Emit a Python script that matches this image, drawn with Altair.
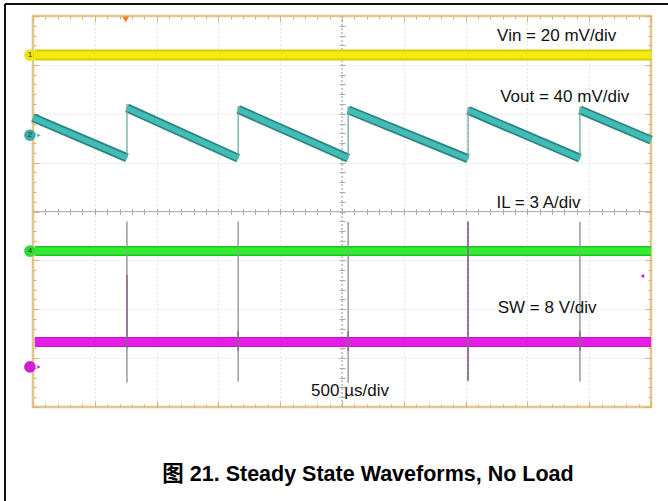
import altair as alt
import pandas as pd

# ---------------- data (x in divisions of 500 µs, y in screen divisions) ----------------
switch_t = [1.52, 3.32, 5.10, 7.04, 8.85]

# Vout sawtooth: falling segments between switching instants
vout_t0 = [0.00, 1.52, 3.32, 5.10, 7.04, 8.85]
vout_v0 = [1.92, 2.12, 2.09, 2.08, 2.07, 2.08]
vout_t1 = [1.52, 3.32, 5.10, 7.04, 8.85, 10.00]
vout_v1 = [1.10, 1.09, 1.09, 1.08, 1.09, 1.46]
# fast rising edges at each switching instant
vout_jump_lo = [1.10, 1.09, 1.09, 1.08, 1.09]
vout_jump_hi = [2.20, 2.16, 2.15, 2.14, 2.15]

# flat traces
trace_name = ["Vin", "IL", "SW"]
trace_level = [3.20, -0.81, -2.67]
trace_start = [0.03, 0.03, 0.03]
trace_end = [10.0, 10.0, 10.0]

# spikes at switching instants
il_spike_top = [-0.21, -0.21, -0.21, -0.21, -0.21]
il_spike_bot = [-3.50, -3.48, -3.50, -3.48, -3.48]
sw_spike_top = [-1.30, -2.45, -2.45, -0.21, -2.45]
sw_spike_bot = [-2.80, -2.85, -2.85, -3.45, -2.85]

# channel markers on the left edge
ch_label = ["1", "2", "4", ""]
ch_level = [3.20, 1.56, -0.81, -3.18]
ch_color = ["#f0e400", "#3aaea6", "#2fdc2f", "#d21ed2"]

# annotations
label_text = ["Vin = 20 mV/div", "Vout = 40 mV/div", "IL = 3 A/div", "SW = 8 V/div", "500 µs/div"]
label_x = [7.51, 7.56, 7.50, 7.52, 4.50]
label_y = [3.60, 2.35, 0.17, -1.97, -3.67]

trigger_pos = [1.50]
ref_arrow_level = [-1.32]

title_text = "图 21. Steady State Waveforms, No Load"

# ---------------- graticule values ----------------
major_x = list(range(0, 11))
major_y = list(range(-4, 5))
minor_x = [round(i / 5, 2) for i in range(1, 50)]
minor_y = [round(-4 + i / 5, 2) for i in range(1, 40)]

W, H = 618, 391
xs = alt.Scale(domain=[0, 10], nice=False, zero=False)
ys = alt.Scale(domain=[-4, 4], nice=False, zero=False)

FONT = "Liberation Sans, Arial, Noto Sans CJK SC, sans-serif"
TAN = "#d9b36a"
GRIDC = "#cdcdcd"


def X(f, axis=None):
    return alt.X(f, type="quantitative", scale=xs, axis=axis)


def Y(f, axis=None):
    return alt.Y(f, type="quantitative", scale=ys, axis=axis)


frame_df = pd.DataFrame({"x": [0.0, 10.0], "y": [-4.0, 4.0]})


def tick_axis(orient, offset, values, size, color):
    return alt.Axis(orient=orient, offset=offset, values=values, tickSize=size,
                    tickColor=color, tickWidth=1, domain=False, grid=False,
                    labels=False, title=None, ticks=True)


def carrier(xaxis, yaxis):
    return alt.Chart(frame_df).mark_point(opacity=0).encode(
        x=X("x", xaxis), y=Y("y", yaxis))


layers = []

# grid
layers.append(carrier(
    alt.Axis(values=major_x, grid=True, gridColor=GRIDC, gridDash=[1, 3], gridWidth=1,
             domain=False, ticks=False, labels=False, title=None),
    alt.Axis(values=major_y, grid=True, gridColor=GRIDC, gridDash=[1, 3], gridWidth=1,
             domain=False, ticks=False, labels=False, title=None)))

# center cross lines
layers.append(alt.Chart(frame_df).mark_rule(color="#b8b8b8", strokeWidth=1, strokeDash=[2, 2]).encode(
    x=alt.datum(5, scale=xs, axis=None), y=alt.value(0), y2=alt.value(H)))
layers.append(alt.Chart(frame_df).mark_rule(color="#b4b4b4", strokeWidth=1).encode(
    y=alt.datum(0, scale=ys, axis=None), x=alt.value(0), x2=alt.value(W)))
# center ticks
layers.append(carrier(tick_axis("bottom", -(H / 2) - 3, minor_x, 6, "#a8a8a8"),
                      tick_axis("left", -(W / 2) - 3, minor_y, 6, "#a8a8a8")))
# border ticks (inward)
layers.append(carrier(tick_axis("top", -H, minor_x, 3, TAN),
                      tick_axis("right", -W, minor_y, 3, TAN)))
layers.append(carrier(tick_axis("bottom", -H, minor_x, 3, TAN),
                      tick_axis("left", -W, minor_y, 3, TAN)))
layers.append(carrier(tick_axis("top", -H, major_x, 6, TAN),
                      tick_axis("right", -W, major_y, 6, TAN)))
layers.append(carrier(tick_axis("bottom", -H, major_x, 6, TAN),
                      tick_axis("left", -W, major_y, 6, TAN)))

# spikes
spk = pd.DataFrame({"t": switch_t, "il_top": il_spike_top, "il_bot": il_spike_bot,
                    "sw_top": sw_spike_top, "sw_bot": sw_spike_bot,
                    "lo": vout_jump_lo, "hi": vout_jump_hi})
layers.append(alt.Chart(spk).mark_rule(color="#94a094", strokeWidth=1.2).encode(
    x=X("t"), y=Y("il_top"), y2="il_bot"))

# flat traces
tr = pd.DataFrame({"name": trace_name, "lvl": trace_level, "t0": trace_start, "t1": trace_end})
trace_outer = {"Vin": "#d6cc00", "IL": "#1fc21f", "SW": "#c414c4"}
trace_inner = {"Vin": "#f4ec10", "IL": "#35ec35", "SW": "#e41ee4"}
outer_w = {"Vin": 11, "IL": 10, "SW": 10}
inner_w = {"Vin": 7, "IL": 7, "SW": 8}
for n in trace_name:
    d = tr[tr["name"] == n]
    layers.append(alt.Chart(d).mark_rule(color=trace_outer[n], strokeWidth=outer_w[n]).encode(
        x=X("t0"), x2="t1", y=Y("lvl")))
    layers.append(alt.Chart(d).mark_rule(color=trace_inner[n], strokeWidth=inner_w[n]).encode(
        x=X("t0"), x2="t1", y=Y("lvl")))

# SW spikes (on top of traces)
layers.append(alt.Chart(spk).mark_rule(color="#7a2a7a", strokeWidth=1.3).encode(
    x=X("t"), y=Y("sw_top"), y2="sw_bot"))
layers.append(alt.Chart(spk).mark_rule(color="#94a094", strokeWidth=1.0, opacity=0.8).encode(
    x=X("t"), y=Y("il_top"), y2="il_bot"))

# Vout sawtooth
vo = pd.DataFrame({"t0": vout_t0, "v0": vout_v0, "t1": vout_t1, "v1": vout_v1})
layers.append(alt.Chart(vo).mark_rule(color="#2a8480", strokeWidth=9).encode(
    x=X("t0"), x2="t1", y=Y("v0"), y2="v1"))
layers.append(alt.Chart(vo).mark_rule(color="#44bcb6", strokeWidth=5.5).encode(
    x=X("t0"), x2="t1", y=Y("v0"), y2="v1"))
layers.append(alt.Chart(spk).mark_rule(color="#6fa8a4", strokeWidth=1.3).encode(
    x=X("t"), y=Y("lo"), y2="hi"))

# channel markers
ch = pd.DataFrame({"lab": ch_label, "lvl": ch_level, "col": ch_color, "x": [-0.05] * 4})
layers.append(alt.Chart(ch).mark_point(filled=True, size=135, opacity=1, shape="circle").encode(
    x=X("x"), y=Y("lvl"), color=alt.Color("col:N", scale=None, legend=None)))
layers.append(alt.Chart(ch).mark_point(filled=True, size=14, shape="triangle-right", opacity=1).encode(
    x=alt.X("x", type="quantitative", scale=xs, axis=None),
    xOffset=alt.value(9),
    y=Y("lvl"), color=alt.Color("col:N", scale=None, legend=None)))
layers.append(alt.Chart(ch).mark_text(fontSize=8, font=FONT, color="#333333").encode(
    x=X("x"), y=Y("lvl"), text="lab:N"))

# trigger marker and reference arrow
layers.append(alt.Chart(pd.DataFrame({"t": trigger_pos, "y": [3.93]})).mark_point(
    filled=True, shape="triangle-down", size=45, color="#f07a1e", opacity=1).encode(
    x=X("t"), y=Y("y")))
layers.append(alt.Chart(pd.DataFrame({"t": [9.86], "y": ref_arrow_level})).mark_point(
    filled=True, shape="triangle-left", size=18, color="#d21ed2", opacity=1).encode(
    x=X("t"), y=Y("y")))

# labels
lab = pd.DataFrame({"text": label_text, "x": label_x, "y": label_y})
layers.append(alt.Chart(lab).mark_text(align="left", baseline="middle", fontSize=17,
                                       font=FONT, color="#111111").encode(
    x=X("x"), y=Y("y"), text="text:N"))

# outer black frame (top and left edges of the page figure)
layers.append(alt.Chart(frame_df).mark_rule(color="black", strokeWidth=1.5).encode(
    x=alt.value(-28), x2=alt.value(640), y=alt.value(-12)))
layers.append(alt.Chart(frame_df).mark_rule(color="black", strokeWidth=1.5).encode(
    x=alt.value(-28), y=alt.value(-12), y2=alt.value(490)))

# figure caption
layers.append(alt.Chart(pd.DataFrame({"t": [title_text]})).mark_text(
    fontSize=21.5, fontWeight="bold", font=FONT, color="black", align="center",
    baseline="middle").encode(x=alt.value(335), y=alt.value(459), text="t:N"))

chart = alt.layer(*layers).properties(
    width=W, height=H,
    padding={"left": 33, "top": 16, "right": 17, "bottom": 94},
    autosize=alt.AutoSizeParams(type="none"),
    background="white",
).resolve_axis(x="independent", y="independent").configure_view(
    stroke="#e3c585", strokeWidth=2.5)

chart.save("out.html", embed_options={"renderer": "svg", "actions": False})
